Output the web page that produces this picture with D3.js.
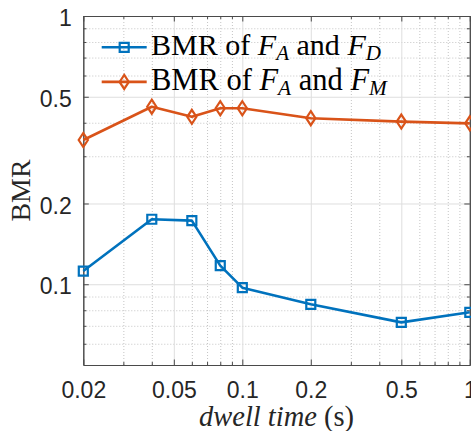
<!DOCTYPE html>
<html>
<head>
<meta charset="utf-8">
<script src="https://cdn.jsdelivr.net/npm/d3@7"></script>
<style>
	html, body { margin: 0; padding: 0; background: #fff; overflow: hidden; }
	.grid line { stroke: #dedede; stroke-width: 1; }
	.grid.minor line { stroke: #c4c4c4; stroke-dasharray: 1 2; }
	.grid path { display: none; }
	.axis path, .axis line { stroke: #4a4a4a; stroke-width: 1; }
	.axis text { font-family: "Liberation Sans", Arial, sans-serif; font-size: 23px; fill: #262626; }
</style>
</head>
<body>
<script>
"use strict";

// values
const dwellTime = [0.02, 0.04, 0.06, 0.08, 0.1, 0.2, 0.5, 1];
const bmrFD = [0.112, 0.1747, 0.1726, 0.1173, 0.0971, 0.0842, 0.0721, 0.0786];
const bmrFM = [0.345, 0.459, 0.421, 0.453, 0.453, 0.416, 0.404, 0.398];

const xTicks = [0.02, 0.05, 0.1, 0.2, 0.5, 1];
const xMinor = [0.03, 0.04, 0.06, 0.07, 0.08, 0.09, 0.3, 0.4, 0.6, 0.7, 0.8, 0.9];
const yTicks = [0.1, 0.2, 0.5, 1];
const yMinor = [0.06, 0.07, 0.08, 0.09, 0.3, 0.4, 0.6, 0.7, 0.8, 0.9];

const w = 471;
const h = 431;
const margin = { top: 16, left: 83.3, right: 1.2, bottom: 66 };
const width = w - margin.left - margin.right;
const height = h - margin.top - margin.bottom;

const blue = "#0072BD";
const orange = "#D95319";
const serif = "'Liberation Serif', 'Times New Roman', serif";

const x = d3.scaleLog().domain([0.02, 1]).range([0, width]);
const y = d3.scaleLog().domain([0.05, 1]).range([height, 0]);
const fmt = d => String(+d.toPrecision(3));

// scale a text's font size so that it spans the width measured on the picture
function fitWidth(t, size, target) {
	const bw = t.node().getBBox().width;
	t.style("font-size", (size * target / bw) + "px");
}

const svg = d3.select("body")
	.append("svg")
	.attr("width", w)
	.attr("height", h);
const chart = svg.append("g")
	.attr("transform", `translate(${margin.left},${margin.top})`);

// grid, minor first
chart.append("g").attr("class", "grid minor")
	.attr("transform", `translate(0,${height})`)
	.call(d3.axisBottom(x).tickValues(xMinor).tickSize(-height).tickFormat(""));
chart.append("g").attr("class", "grid minor")
	.call(d3.axisLeft(y).tickValues(yMinor).tickSize(-width).tickFormat(""));
chart.append("g").attr("class", "grid")
	.attr("transform", `translate(0,${height})`)
	.call(d3.axisBottom(x).tickValues(xTicks).tickSize(-height).tickFormat(""));
chart.append("g").attr("class", "grid")
	.call(d3.axisLeft(y).tickValues(yTicks).tickSize(-width).tickFormat(""));

// axes with inward ticks on all four sides
const bottom = chart.append("g").attr("class", "axis")
	.attr("transform", `translate(0,${height})`)
	.call(d3.axisBottom(x).tickValues(xTicks).tickSize(-5.5).tickSizeOuter(0).tickFormat(fmt));
bottom.selectAll("text").attr("y", 32.5).attr("dy", null);
chart.append("g").attr("class", "axis")
	.attr("transform", `translate(0,${height})`)
	.call(d3.axisBottom(x).tickValues(xMinor).tickSize(-3).tickSizeOuter(0).tickFormat(""));
chart.append("g").attr("class", "axis")
	.call(d3.axisTop(x).tickValues(xTicks).tickSize(-5.5).tickSizeOuter(0).tickFormat(""));
chart.append("g").attr("class", "axis")
	.call(d3.axisTop(x).tickValues(xMinor).tickSize(-3).tickSizeOuter(0).tickFormat(""));

const left = chart.append("g").attr("class", "axis")
	.call(d3.axisLeft(y).tickValues(yTicks).tickSize(-5.5).tickSizeOuter(0).tickFormat(fmt));
left.selectAll("text").attr("x", -11.6).attr("dy", "0.42em");
chart.append("g").attr("class", "axis")
	.call(d3.axisLeft(y).tickValues(yMinor).tickSize(-3).tickSizeOuter(0).tickFormat(""));
chart.append("g").attr("class", "axis")
	.attr("transform", `translate(${width},0)`)
	.call(d3.axisRight(y).tickValues(yTicks).tickSize(-5.5).tickSizeOuter(0).tickFormat(""));
chart.append("g").attr("class", "axis")
	.attr("transform", `translate(${width},0)`)
	.call(d3.axisRight(y).tickValues(yMinor).tickSize(-3).tickSizeOuter(0).tickFormat(""));

// axis labels
const xLabel = chart.append("text")
	.attr("x", width / 2)
	.attr("y", height + 61)
	.attr("text-anchor", "middle")
	.style("font-family", serif)
	.style("font-size", "24px")
	.style("fill", "#262626");
xLabel.append("tspan").style("font-style", "italic").text("dwell time");
xLabel.append("tspan").text(" (s)");
fitWidth(xLabel, 24, 155);

const yLabel = chart.append("text")
	.attr("transform", `translate(${30 - margin.left},${height / 2}) rotate(-90)`)
	.attr("text-anchor", "middle")
	.style("font-family", serif)
	.style("font-size", "27px")
	.style("fill", "#262626")
	.text("BMR");
fitWidth(yLabel, 27, 62);

// series
const series = [
	{ name: "D", values: bmrFD, color: blue, marker: "square" },
	{ name: "M", values: bmrFM, color: orange, marker: "diamond" }
];
const line = d3.line()
	.x(d => x(d[0]))
	.y(d => y(d[1]));
const markerPath = {
	square: "M-4.5,-4.5H4.5V4.5H-4.5Z",
	diamond: "M0,-7L4.6,0L0,7L-4.6,0Z"
};

series.forEach(s => {
	const pts = dwellTime.map((t, i) => [t, s.values[i]]);
	chart.append("path")
		.datum(pts)
		.attr("d", line)
		.attr("fill", "none")
		.attr("stroke", s.color)
		.attr("stroke-width", 2.6)
		.attr("stroke-linejoin", "round");
	chart.append("g")
		.selectAll("path")
		.data(pts)
		.join("path")
		.attr("transform", d => `translate(${x(d[0])},${y(d[1])})`)
		.attr("d", markerPath[s.marker])
		.attr("fill", "none")
		.attr("stroke", s.color)
		.attr("stroke-width", 2.2);
});

// legend, no box
const legend = svg.append("g");
series.forEach((s, i) => {
	const ly = 47.3 + i * 34.6;
	legend.append("line")
		.attr("x1", 101.7).attr("x2", 146.7)
		.attr("y1", ly).attr("y2", ly)
		.attr("stroke", s.color)
		.attr("stroke-width", 2.6);
	legend.append("path")
		.attr("transform", `translate(124.2,${ly})`)
		.attr("d", markerPath[s.marker])
		.attr("fill", "none")
		.attr("stroke", s.color)
		.attr("stroke-width", 2.2);
	const t = legend.append("text")
		.attr("x", 151)
		.attr("y", ly + 8)
		.style("font-family", serif)
		.style("font-size", "26px")
		.style("fill", "#000");
	t.append("tspan").text("BMR of ");
	t.append("tspan").style("font-style", "italic").text("F");
	t.append("tspan").style("font-style", "italic").style("font-size", "0.7em").attr("dy", 5).text("A");
	t.append("tspan").attr("dy", -5).text(" and ");
	t.append("tspan").style("font-style", "italic").text("F");
	t.append("tspan").style("font-style", "italic").style("font-size", "0.7em").attr("dy", 5).text(s.name);
	fitWidth(t, 26, s.name === "D" ? 230 : 237);
});
</script>
</body>
</html>
